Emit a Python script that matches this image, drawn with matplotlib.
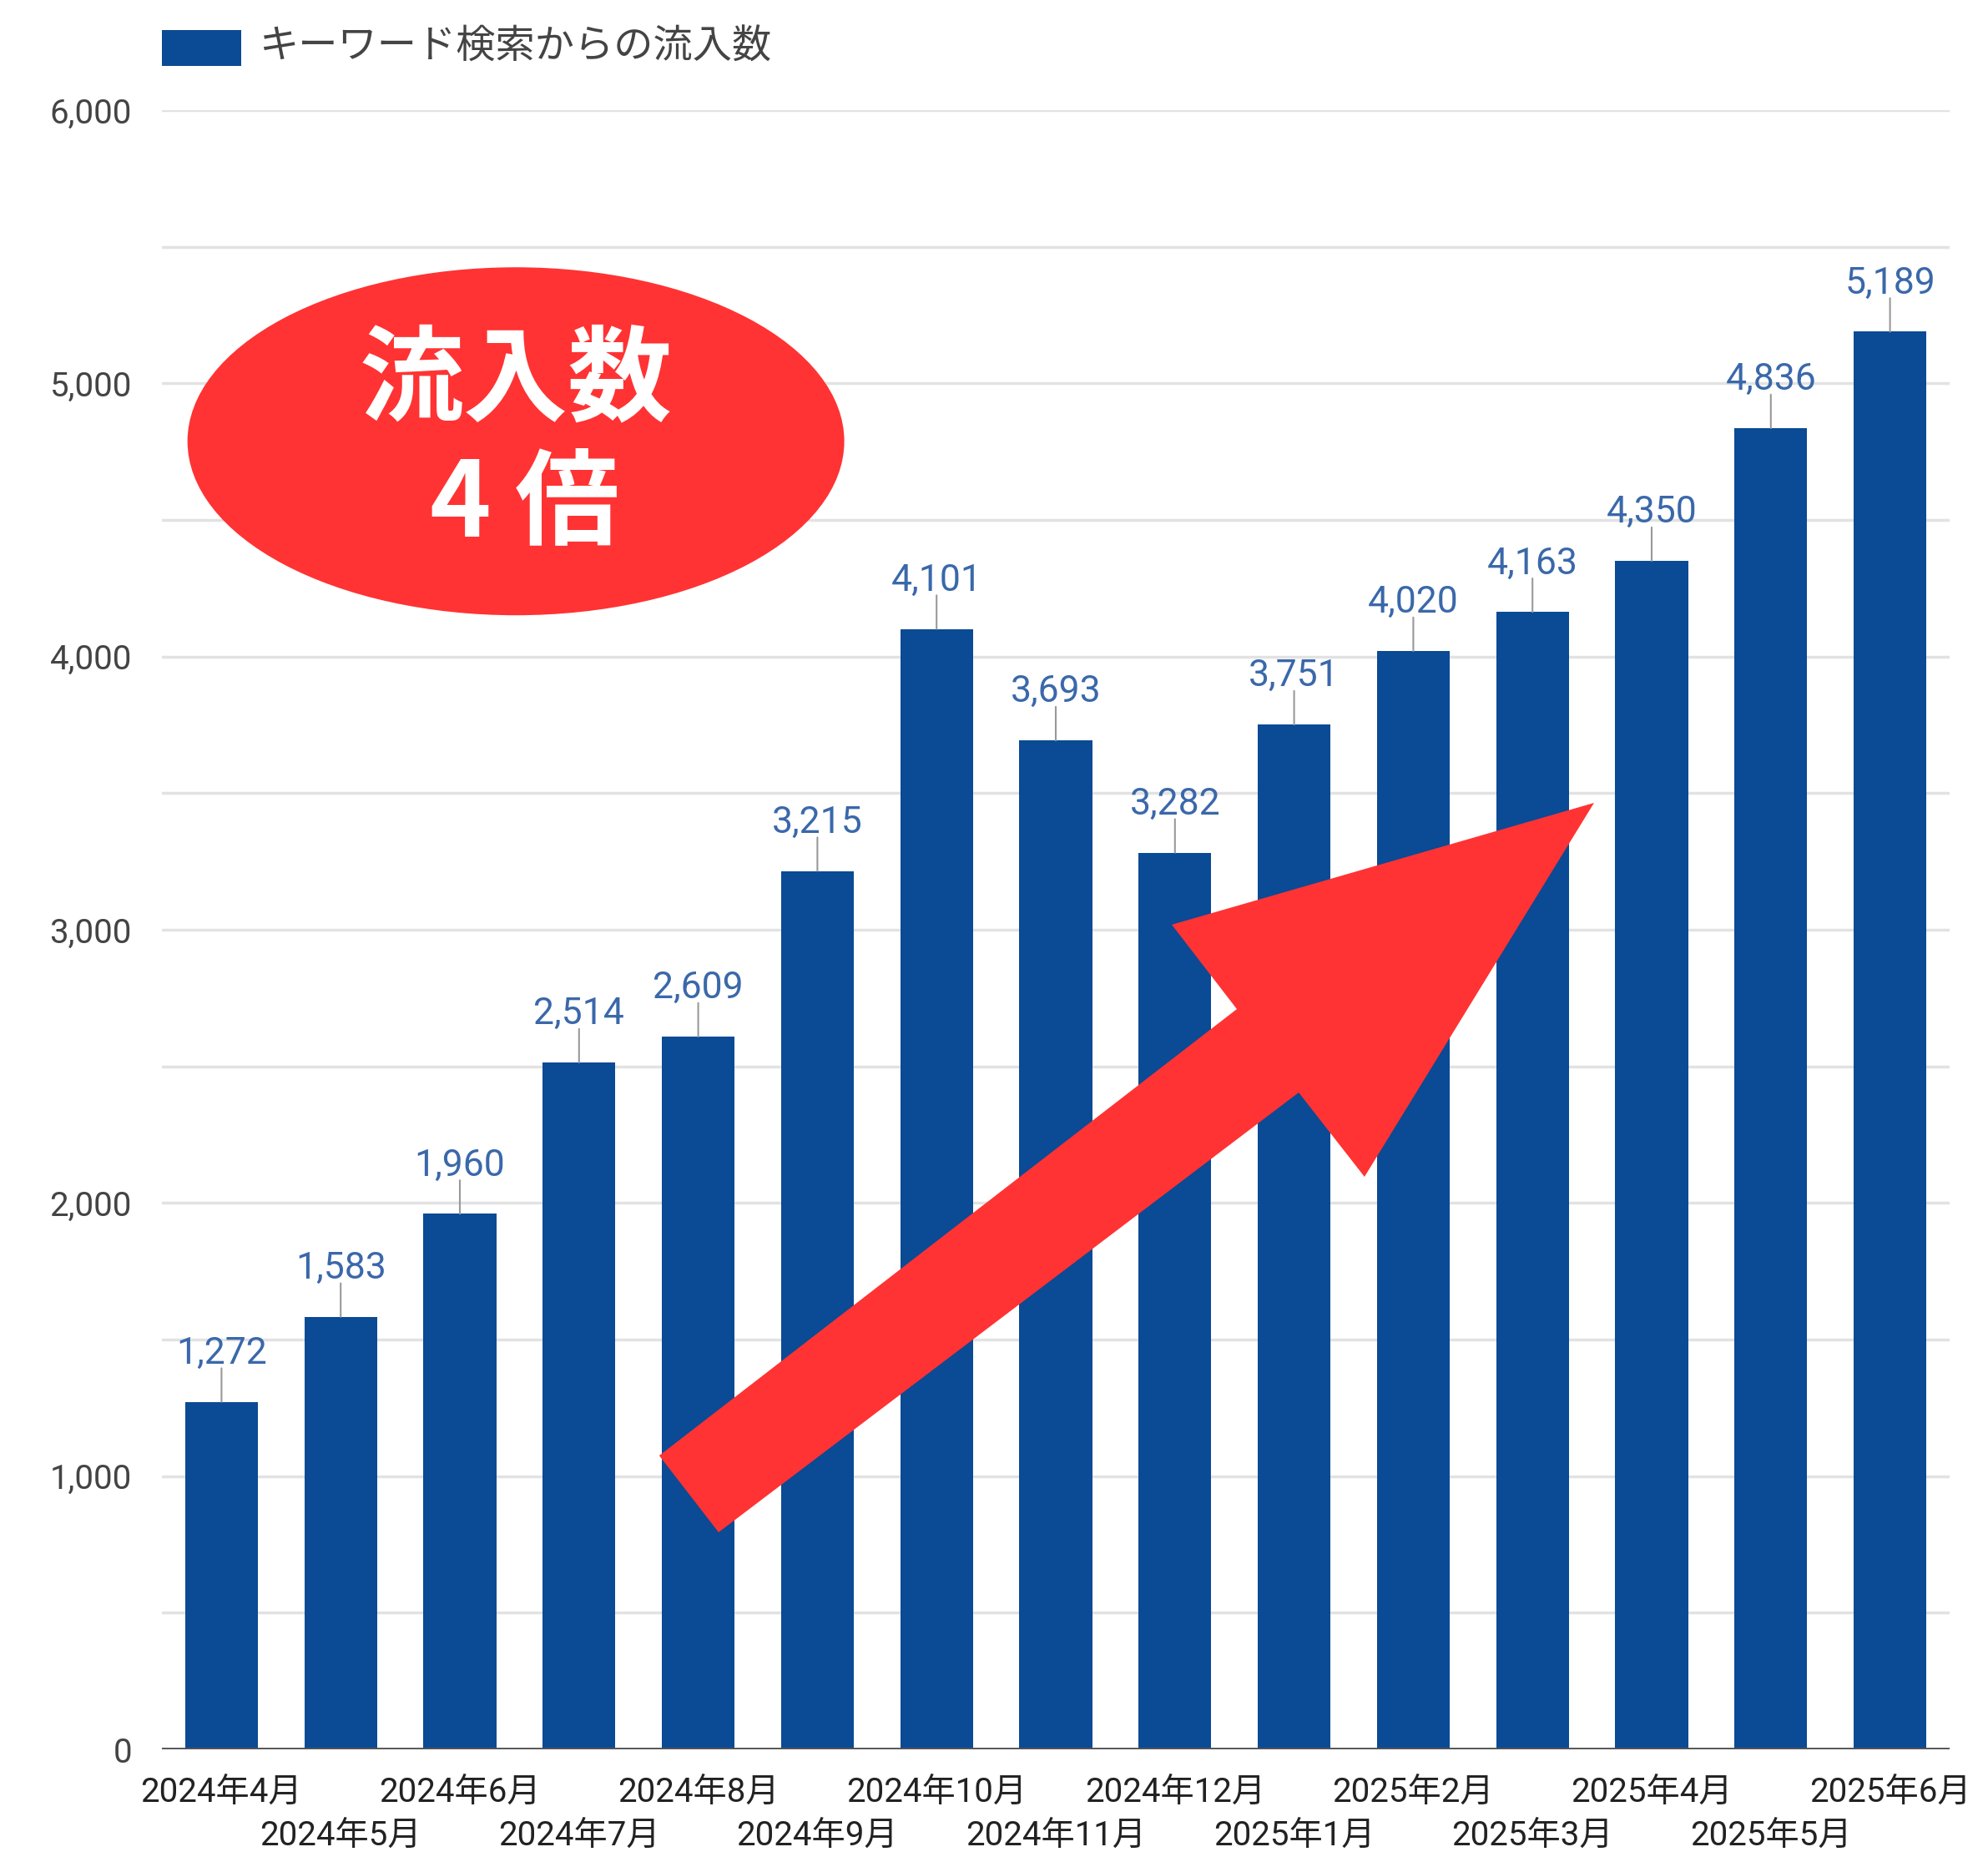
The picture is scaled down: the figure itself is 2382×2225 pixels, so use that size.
import matplotlib
matplotlib.use("Agg")
import matplotlib.pyplot as plt
from matplotlib.patches import Ellipse, Polygon, Rectangle
from matplotlib.ticker import FuncFormatter, MultipleLocator

# ---- data ----
months = ["2024年4月", "2024年5月", "2024年6月", "2024年7月", "2024年8月",
          "2024年9月", "2024年10月", "2024年11月", "2024年12月", "2025年1月",
          "2025年2月", "2025年3月", "2025年4月", "2025年5月", "2025年6月"]
visits = [1272, 1583, 1960, 2514, 2609, 3215, 4101, 3693, 3282, 3751,
          4020, 4163, 4350, 4836, 5189]
legend_label = "キーワード検索からの流入数"
badge_lines = ["流入数", "4 倍"]

BAR = "#0B4A94"
LABEL = "#3A68AA"
RED = "#FF3333"
TXT = "#444444"
FONTS = ["Roboto", "Noto Sans CJK JP", "DejaVu Sans"]
plt.rcParams["font.family"] = FONTS

W_PX, H_PX = 2382, 2225
fig = plt.figure(figsize=(W_PX / 100, H_PX / 100), dpi=100)
ax_l, ax_r, ax_t, ax_b = 194, 2336, 132, 2096
ax = fig.add_axes([ax_l / W_PX, (H_PX - ax_b) / H_PX,
                   (ax_r - ax_l) / W_PX, (ax_b - ax_t) / H_PX])

x = list(range(len(months)))
ax.bar(x, visits, width=0.61, color=BAR, zorder=2)

ax.set_xlim(-0.5, len(months) - 0.5)
ax.set_ylim(0, 6000)
ax.yaxis.set_major_locator(MultipleLocator(1000))
ax.yaxis.set_minor_locator(MultipleLocator(500))
ax.yaxis.set_major_formatter(FuncFormatter(lambda v, p: f"{int(v):,}"))
ax.grid(axis="y", which="both", color="#E2E2E2", lw=2.5, zorder=0)
ax.set_axisbelow(True)
for s in ax.spines.values():
    s.set_visible(False)
ax.axhline(0, color="#555555", lw=3.5, zorder=3)

ax.tick_params(axis="y", which="both", length=0, pad=26, labelsize=29, labelcolor=TXT)
ax.set_xticks(x)
ax.set_xticklabels(months, fontsize=29, color="#222222")
ax.tick_params(axis="x", length=0)
for i, t in enumerate(ax.xaxis.get_major_ticks()):
    t.set_pad(23 if i % 2 == 0 else 60)

# data labels with leader lines
for i, v in zip(x, visits):
    ax.annotate("", xy=(i, v), xytext=(0, 29), textcoords="offset points",
                arrowprops=dict(arrowstyle="-", color="#999999", lw=1.5,
                                shrinkA=0, shrinkB=0), zorder=3)
    ax.annotate(f"{v:,}", xy=(i, v), xytext=(0, 33), textcoords="offset points",
                ha="center", va="baseline", fontsize=32, color=LABEL, zorder=3)

# red badge
ax.add_patch(Ellipse((0.198, 0.798), 0.3674, 0.2123, transform=ax.transAxes,
                     facecolor=RED, edgecolor="none", zorder=10, clip_on=False))
ax.text(0.198, 0.834, badge_lines[0], transform=ax.transAxes, ha="center", va="center",
        fontsize=90, fontweight="bold", color="white", zorder=11,
        family=["Noto Sans CJK JP", "DejaVu Sans"])
ax.text(0.203, 0.759, badge_lines[1], transform=ax.transAxes, ha="center", va="center",
        fontsize=90, fontweight="bold", color="white", zorder=11,
        family=["Noto Sans CJK JP", "DejaVu Sans"])

# red arrow
arrow_pts = [(0.2782, 0.1792), (0.6013, 0.4516), (0.5649, 0.5031), (0.8011, 0.5774),
             (0.6727, 0.3493), (0.6359, 0.4007), (0.3114, 0.1324)]
ax.add_patch(Polygon(arrow_pts, closed=True, transform=ax.transAxes,
                     facecolor=RED, edgecolor="none", zorder=10, clip_on=False))

# legend
fig.add_artist(Rectangle((194 / W_PX, (H_PX - 79) / H_PX), 95 / W_PX, 43 / H_PX,
                         transform=fig.transFigure, facecolor=BAR, edgecolor="none"))
fig.text(311 / W_PX, (H_PX - 56) / H_PX, legend_label, ha="left", va="center",
         fontsize=34, color=TXT, family=["Noto Sans CJK JP", "DejaVu Sans"])

fig.savefig("out.png", dpi=100, facecolor="white")
